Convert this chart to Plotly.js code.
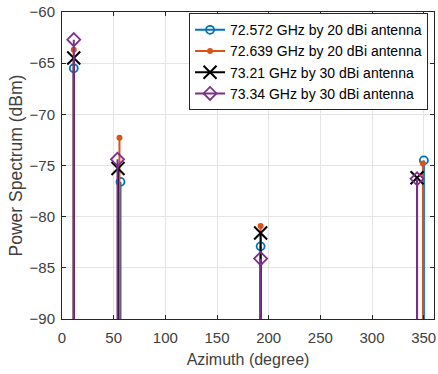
<!DOCTYPE html>
<html><head><meta charset="utf-8">
<script src="https://cdn.plot.ly/plotly-3.0.1.min.js"></script>
<style>html,body{margin:0;padding:0;background:#fff;}#chart{width:438px;height:374px;}</style>
</head><body><div id="chart"></div>
<script>
// Data
const names = ["72.572 GHz by 20 dBi antenna","72.639 GHz by 20 dBi antenna","73.21 GHz by 30 dBi antenna","73.34 GHz by 30 dBi antenna"];
const az_s1 = [11.4, 56.6, 192.2, 350.2];
const pw_s1 = [-65.5, -76.6, -82.9, -74.5];
const az_s2 = [11.4, 55.6, 192.2, 349.3];
const pw_s2 = [-63.7, -72.3, -80.9, -74.8];
const az_s3 = [11.4, 54.2, 192.2, 343.6];
const pw_s3 = [-64.5, -75.3, -81.6, -76.2];
const az_s4 = [11.4, 53.7, 192.2, 343.6];
const pw_s4 = [-62.7, -74.4, -84.1, -76.3];
const baseline = -100;

const colors = ["#0072BD","#D95319","#000000","#7E2F8E"];
const symbols = ["circle-open","circle","x-thin-open","diamond-open"];
const sizes = [8,6,13,10];
const mlw = [1.8,0,2,1.8];

const series = [[az_s1,pw_s1],[az_s2,pw_s2],[az_s3,pw_s3],[az_s4,pw_s4]];
const traces = [];
series.forEach((s,i)=>{
  const xs=[], ys=[];
  s[0].forEach((x,j)=>{ xs.push(x,x,null); ys.push(s[1][j],baseline,null); });
  traces.push({
    type:'scatter', mode:'lines+markers', x:xs, y:ys, name:names[i],
    connectgaps:false, cliponaxis:true,
    line:{color:colors[i], width:2},
    marker:{symbol:symbols[i], size:sizes[i], color:colors[i], line:{color:colors[i], width:mlw[i]}}
  });
});

const fontFam = 'Liberation Sans, Arial, sans-serif';
const txt = '#404040';
const layout = {
  width:438, height:374,
  margin:{l:62, r:4, t:12, b:55},
  paper_bgcolor:'#fff', plot_bgcolor:'#fff',
  font:{family:fontFam, size:15, color:txt},
  xaxis:{
    range:[0,360], tickvals:[0,50,100,150,200,250,300,350], ticktext:['0','50','100','150','200','250','300','350'],
    showgrid:true, gridcolor:'#e5e5e5', gridwidth:1, zeroline:false,
    showline:true, linecolor:'#262626', linewidth:1, mirror:'ticks',
    ticks:'inside', ticklen:4, tickcolor:'#262626', ticklabelstandoff:5,
    tickfont:{size:15, color:txt},
    title:{text:'Azimuth (degree)', font:{size:16, color:txt}, standoff:8}
  },
  yaxis:{
    range:[-90,-60], tickvals:[-90,-85,-80,-75,-70,-65,-60],
    showgrid:true, gridcolor:'#e5e5e5', gridwidth:1, zeroline:false,
    showline:true, linecolor:'#262626', linewidth:1, mirror:'ticks',
    ticks:'inside', ticklen:4, tickcolor:'#262626', ticklabelstandoff:3,
    tickfont:{size:15, color:txt},
    title:{text:'Power Spectrum (dBm)', font:{size:17.5, color:txt}, standoff:2}
  },
  legend:{
    x:0.984, xanchor:'right', y:0.996, yanchor:'top',
    bgcolor:'#fff', bordercolor:'#262626', borderwidth:1,
    font:{size:14, color:'#000'}, tracegroupgap:0, itemwidth:30
  }
};
Plotly.newPlot('chart', traces, layout, {displayModeBar:false, staticPlot:true});
</script></body></html>
